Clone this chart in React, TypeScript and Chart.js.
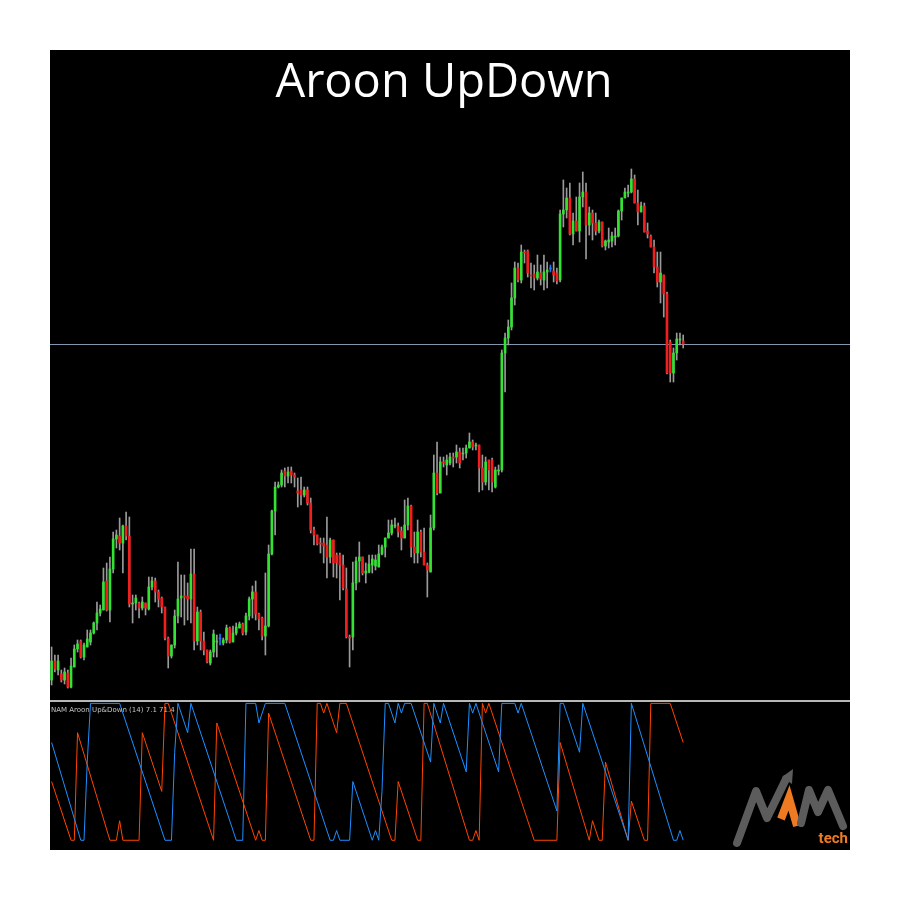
import React, { useEffect, useRef } from "react";
import { Chart, registerables } from "chart.js";

Chart.register(...registerables);

const TITLE = "Aroon UpDown";
const INDICATOR_LABEL = "NAM Aroon Up&Down (14) 7.1 71.4";
const LOGO_TEXT = "tech";
const SLOTS = 247;

const opens = [20,39,30,26,20,27,13,33,51,59,43,53,58,67,77,87,90,119,90,131,161,164,157,174,164,96,97,97,92,97,91,113,119,108,102,93,62,44,55,84,102,104,104,101,126,59,88,59,50,37,48,58,61,57,60,72,58,67,72,76,68,84,101,108,86,82,64,74,146,189,213,215,229,224,229,225,209,210,205,210,197,170,165,157,157,155,143,160,145,145,135,111,63,63,117,139,143,127,128,135,134,133,146,153,162,167,174,174,169,162,175,194,153,147,168,148,135,128,172,227,207,238,235,237,243,243,248,246,247,252,258,254,255,232,218,240,240,213,229,230,347,362,373,402,432,420,448,449,425,426,422,427,420,428,431,429,427,420,486,490,502,466,479,469,503,508,475,487,477,469,478,454,458,459,463,464,489,502,507,508,521,497,488,494,469,464,453,433,418,425,406,358,327,347,360,359];
const highs = [53,45,45,30,32,30,42,55,60,60,57,70,70,78,98,95,132,137,143,168,170,182,175,188,183,105,105,98,103,97,123,123,122,110,103,93,63,55,90,138,125,125,117,151,151,93,90,68,50,50,70,65,66,62,75,73,74,77,78,77,87,103,114,119,87,83,127,155,190,218,218,230,232,233,233,227,222,223,213,213,202,173,165,162,162,183,162,160,147,147,145,132,65,138,143,158,143,137,145,145,145,155,155,162,180,180,182,177,173,200,202,195,168,180,170,172,137,185,245,258,243,243,245,247,247,255,252,252,255,267,260,257,255,245,243,240,242,233,235,350,367,380,417,438,437,455,450,450,437,435,445,435,445,438,435,438,432,490,520,512,517,487,503,517,528,517,493,490,487,480,478,460,472,468,472,490,502,512,515,531,525,510,498,497,477,465,460,448,448,425,408,360,352,367,367,365];
const lows = [15,28,25,18,16,12,12,33,48,42,40,53,55,66,70,84,90,89,78,127,152,150,127,160,93,77,90,82,90,85,90,110,98,93,87,60,32,42,52,77,83,75,80,77,50,55,50,45,37,35,43,43,55,55,57,57,58,65,72,65,65,80,82,80,70,60,45,73,145,165,212,213,213,217,217,213,193,195,203,195,167,155,155,147,137,122,137,123,122,100,110,62,33,50,110,118,125,117,127,127,130,133,145,143,162,165,172,163,150,162,170,143,137,137,143,135,103,128,170,205,207,233,225,235,233,237,232,240,242,252,250,250,208,210,215,210,208,212,225,228,308,355,370,395,418,417,437,423,412,410,420,415,410,412,428,418,416,418,473,482,465,455,469,458,493,441,465,460,465,467,453,450,452,453,455,463,480,502,503,507,497,475,488,468,462,453,427,413,397,383,326,318,318,340,355,352];
const closes = [39,31,39,20,28,13,34,51,56,43,55,61,67,77,87,91,118,90,131,161,165,157,174,164,96,97,102,92,98,92,113,119,108,101,93,62,44,55,84,101,104,103,101,126,59,88,59,50,38,48,66,59,61,60,72,58,67,73,76,67,84,101,108,86,81,64,74,146,189,213,215,227,224,228,225,223,207,205,210,197,170,165,156,156,154,143,160,137,137,135,112,63,62,117,139,143,127,129,136,141,140,146,153,162,167,175,175,168,162,175,194,153,147,168,148,135,130,172,227,207,238,237,240,243,242,248,237,247,252,258,253,255,232,218,238,230,218,230,230,347,362,373,402,432,420,448,447,427,424,422,428,421,428,430,431,425,419,486,490,502,466,479,469,503,508,475,487,477,469,478,454,459,460,464,464,489,502,508,508,521,497,488,494,468,466,453,433,418,427,406,327,327,347,361,361,356];

// Aroon (14) turning points read from the sub-window: [bar index, value]
const aroonUp: [number, number][] = [
  [0,71.4],[9,0],[10,0],[11,57.1],[12,100],[21,100],[35,0],[37,0],[38,64.3],[39,100],[42,78.6],[43,100],
  [57,0],[59,0],[60,100],[63,100],[64,85.7],[66,100],[72,100],[86,0],[87,0],[88,7.1],[89,0],[92,0],
  [93,42.9],[99,0],[100,7.1],[101,0],[102,35.7],[103,100],[104,100],[106,85.7],[107,100],[108,92.9],
  [109,100],[111,100],[117,57.1],[118,100],[120,85.7],[121,100],[128,50],[129,100],[130,92.9],[131,100],
  [138,50],[139,100],[143,100],[144,92.9],[145,100],[156,21.4],[157,100],[158,100],[163,64.3],[164,100],
  [178,0],[179,100],[192,0],[193,0],[194,7.1],[195,0]
];
const aroonDown: [number, number][] = [
  [0,42.9],[6,0],[7,0],[8,78.6],[18,0],[20,0],[21,14.3],[22,0],[27,0],[28,78.6],[34,35.7],[35,100],
  [36,100],[50,0],[51,85.7],[63,0],[64,7.1],[65,0],[66,0],[67,92.9],[80,0],[81,0],[82,100],[83,100],
  [84,92.9],[85,100],[88,78.6],[89,100],[91,100],[105,0],[106,0],[107,42.9],[113,0],[114,0],[115,100],
  [116,100],[129,0],[130,0],[131,7.1],[132,0],[133,100],[134,92.9],[135,100],[149,0],[156,0],[157,71.4],
  [166,0],[167,14.3],[169,0],[170,0],[171,57.1],[178,0],[179,28.6],[183,0],[184,0],[185,100],[191,100],
  [195,71.4]
];

const BULL = "#33e233";
const BEAR = "#f01e1e";
const DOJI = "#1e78ff";
const WICK = "#9a9a9a";
const UP_COLOR = "#1E90FF";
const DOWN_COLOR = "#FF4500";

export default function App() {
  const priceRef = useRef<HTMLCanvasElement | null>(null);
  const aroonRef = useRef<HTMLCanvasElement | null>(null);

  useEffect(() => {
    const labels = Array.from({ length: SLOTS }, (_, i) => String(i));
    const bodies = opens.map((o, i) => [o, closes[i]]);
    const wicks = lows.map((l, i) => [l, highs[i]]);
    const bodyColors = opens.map((o, i) => (closes[i] > o ? BULL : closes[i] < o ? BEAR : DOJI));
    const wickColors = opens.map((o, i) => (closes[i] === o ? DOJI : WICK));

    const priceLine = {
      id: "priceLine",
      beforeDatasetsDraw(chart: any) {
        const { ctx, chartArea, scales } = chart;
        const y = Math.round(scales.y.getPixelForValue(closes[closes.length - 1])) + 0.5;
        ctx.save();
        ctx.strokeStyle = "#8596b0";
        ctx.lineWidth = 1;
        ctx.beginPath();
        ctx.moveTo(chartArea.left, y);
        ctx.lineTo(chartArea.right, y);
        ctx.stroke();
        ctx.restore();
      },
    };

    const priceChart = new Chart(priceRef.current as HTMLCanvasElement, {
      type: "bar",
      data: {
        labels,
        datasets: [
          {
            data: bodies as any,
            backgroundColor: bodyColors,
            borderWidth: 0,
            barThickness: 2,
            minBarLength: 1,
            grouped: false,
            order: 0,
          } as any,
          {
            data: wicks as any,
            backgroundColor: wickColors,
            borderWidth: 0,
            barThickness: 1,
            grouped: false,
            order: 1,
          } as any,
        ],
      },
      options: {
        responsive: false,
        maintainAspectRatio: false,
        animation: false,
        devicePixelRatio: 1,
        layout: { padding: 0 },
        plugins: { legend: { display: false }, tooltip: { enabled: false }, title: { display: false } },
        scales: {
          x: { display: false, offset: true },
          y: { display: false, min: 0, max: 650 },
        },
      },
      plugins: [priceLine],
    });

    const aroonChart = new Chart(aroonRef.current as HTMLCanvasElement, {
      type: "line",
      data: {
        datasets: [
          {
            data: aroonUp.map(([x, y]) => ({ x, y })),
            borderColor: UP_COLOR,
            borderWidth: 1,
            pointRadius: 0,
            tension: 0,
          },
          {
            data: aroonDown.map(([x, y]) => ({ x, y })),
            borderColor: DOWN_COLOR,
            borderWidth: 1,
            pointRadius: 0,
            tension: 0,
          },
        ],
      },
      options: {
        responsive: false,
        maintainAspectRatio: false,
        animation: false,
        devicePixelRatio: 1,
        layout: { padding: 0 },
        plugins: { legend: { display: false }, tooltip: { enabled: false } },
        scales: {
          x: { type: "linear", display: false, min: -0.5, max: SLOTS - 0.5 },
          y: { display: false, min: -7.1, max: 101 },
        },
      },
    });

    return () => {
      priceChart.destroy();
      aroonChart.destroy();
    };
  }, []);

  return (
    <div style={{ position: "absolute", left: 0, top: 0, width: 900, height: 900, background: "#ffffff", overflow: "hidden" }}>
      <div style={{ position: "absolute", left: 50, top: 50, width: 800, height: 800, background: "#000000" }} />
      <canvas ref={priceRef} width={800} height={650} style={{ position: "absolute", left: 50, top: 50, width: 800, height: 650 }} />
      <div style={{ position: "absolute", left: 50, top: 700, width: 800, height: 2, background: "#b8b8b8" }} />
      <canvas ref={aroonRef} width={800} height={148} style={{ position: "absolute", left: 50, top: 702, width: 800, height: 148 }} />
      <div
        style={{
          position: "absolute",
          left: 44,
          top: 56,
          width: 800,
          textAlign: "center",
          fontFamily: "'Open Sans', sans-serif",
          fontSize: 47,
          lineHeight: "47px",
          color: "#ffffff",
          whiteSpace: "nowrap",
        }}
      >
        {TITLE}
      </div>
      <div
        style={{
          position: "absolute",
          left: 51,
          top: 707,
          fontFamily: "'DejaVu Sans', sans-serif",
          fontSize: 7,
          lineHeight: "7px",
          color: "#c4c4c4",
          whiteSpace: "nowrap",
        }}
      >
        {INDICATOR_LABEL}
      </div>
      <svg width={900} height={900} style={{ position: "absolute", left: 0, top: 0, pointerEvents: "none" }}>
        <polyline points="737,843 756,791 767,818 786,779" fill="none" stroke="#5c5c5c" strokeWidth={8} strokeLinecap="round" strokeLinejoin="round" />
        <polygon points="782,777 793,769 792,784" fill="#5c5c5c" />
        <polyline points="781,819 789,798 797,826" fill="none" stroke="#ee7a22" strokeWidth={8} strokeLinecap="butt" strokeLinejoin="miter" />
        <polyline points="801,823 809,790 818,812 828,790 843,826" fill="none" stroke="#5c5c5c" strokeWidth={8} strokeLinecap="round" strokeLinejoin="round" />
        <text x={848} y={843} textAnchor="end" fontFamily="Roboto, sans-serif" fontWeight="bold" fontSize={15} fill="#ee7a22">
          {LOGO_TEXT}
        </text>
      </svg>
    </div>
  );
}
